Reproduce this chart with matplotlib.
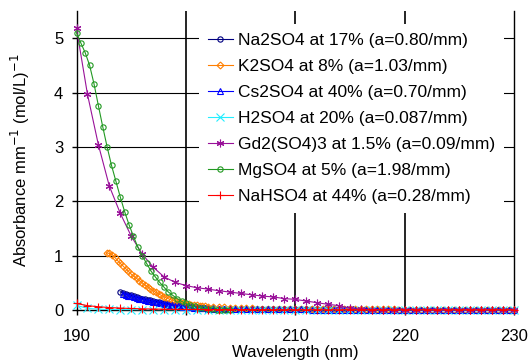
import numpy as np
import matplotlib
matplotlib.use("Agg")
import matplotlib.pyplot as plt

plt.rcParams['font.family'] = ['Liberation Sans', 'DejaVu Sans']

# wavelength grids (nm)
wl_1nm = np.arange(190, 231, 1.0)                       # 41 points
wl_mg = np.round(np.arange(190.0, 204.01, 0.4), 2)      # 36 points
wl_tail = np.arange(202.5, 230.01, 0.5)                 # 56 points
wl_na = np.concatenate([np.arange(194.0, 202.01, 0.25), wl_tail])
wl_k = np.concatenate([np.arange(192.75, 202.01, 0.25), wl_tail])
wl_cs = np.concatenate([np.arange(194.25, 202.01, 0.25), wl_tail])

# absorbance values
na2so4 = [0.335, 0.315, 0.30, 0.285, 0.27, 0.255, 0.24, 0.225, 0.21, 0.198,
          0.186, 0.175, 0.165, 0.155, 0.145, 0.135, 0.125, 0.117, 0.109, 0.101,
          0.094, 0.087, 0.08, 0.074, 0.068, 0.062, 0.057, 0.052, 0.047, 0.043,
          0.039, 0.035, 0.032,
          0.029, 0.027, 0.025, 0.023, 0.021, 0.02, 0.019, 0.018, 0.017, 0.016,
          0.015, 0.015, 0.014, 0.014, 0.013, 0.013, 0.012, 0.012, 0.012, 0.011,
          0.011, 0.011, 0.010, 0.010, 0.010, 0.010, 0.009, 0.009, 0.009, 0.009,
          0.009, 0.008, 0.008, 0.008, 0.008, 0.008, 0.008, 0.007, 0.007, 0.007,
          0.007, 0.007, 0.007, 0.007, 0.007, 0.006, 0.006, 0.006, 0.006, 0.006,
          0.006, 0.006, 0.006, 0.006, 0.006, 0.006]

k2so4 = [1.05, 1.04, 1.02, 0.97, 0.91, 0.86, 0.81, 0.76, 0.71, 0.66,
         0.62, 0.58, 0.54, 0.50, 0.46, 0.43, 0.39, 0.355, 0.325, 0.295,
         0.27, 0.245, 0.22, 0.20, 0.18, 0.165, 0.15, 0.14, 0.128, 0.118,
         0.108, 0.10, 0.092, 0.085, 0.078, 0.072, 0.066, 0.06,
         0.055, 0.05, 0.046, 0.042, 0.038, 0.035, 0.032, 0.029, 0.027, 0.025,
         0.023, 0.021, 0.02, 0.019, 0.018, 0.017, 0.016, 0.015, 0.015, 0.014,
         0.014, 0.013, 0.013, 0.012, 0.012, 0.012, 0.011, 0.011, 0.011, 0.01,
         0.01, 0.01, 0.01, 0.01, 0.009, 0.009, 0.009, 0.009, 0.009, 0.009,
         0.008, 0.008, 0.008, 0.008, 0.008, 0.008, 0.008, 0.008, 0.007, 0.007,
         0.007, 0.007, 0.007, 0.007, 0.007, 0.007]

cs2so4 = [0.295, 0.28, 0.265, 0.25, 0.236, 0.222, 0.208, 0.195, 0.183, 0.171,
          0.16, 0.149, 0.139, 0.129, 0.12, 0.111, 0.103, 0.095, 0.088, 0.081,
          0.075, 0.069, 0.063, 0.058, 0.053, 0.048, 0.044, 0.04, 0.036, 0.033,
          0.03, 0.027,
          0.025, 0.023, 0.021, 0.02, 0.018, 0.017, 0.016, 0.015, 0.014, 0.013,
          0.013, 0.012, 0.012, 0.011, 0.011, 0.01, 0.01, 0.01, 0.009, 0.009,
          0.009, 0.009, 0.008, 0.008, 0.008, 0.008, 0.008, 0.007, 0.007, 0.007,
          0.007, 0.007, 0.007, 0.006, 0.006, 0.006, 0.006, 0.006, 0.006, 0.006,
          0.006, 0.005, 0.005, 0.005, 0.005, 0.005, 0.005, 0.005, 0.005, 0.005,
          0.005, 0.005, 0.005, 0.005, 0.005, 0.005]

h2so4 = [0.085, 0.03, 0.015, 0.01, 0.008, 0.007, 0.006, 0.006, 0.005, 0.005,
         0.005, 0.005, 0.005, 0.005, 0.005, 0.005, 0.005, 0.005, 0.005, 0.005,
         0.004, 0.004, 0.004, 0.004, 0.004, 0.004, 0.004, 0.004, 0.004, 0.004,
         0.004, 0.004, 0.004, 0.004, 0.004, 0.004, 0.004, 0.004, 0.004, 0.004,
         0.004]

gd2so43 = [5.18, 3.97, 3.04, 2.28, 1.78, 1.36, 1.03, 0.79, 0.61, 0.51,
           0.45, 0.41, 0.385, 0.355, 0.33, 0.305, 0.28, 0.256, 0.24, 0.21,
           0.195, 0.165, 0.134, 0.104, 0.08, 0.03, 0.012, 0.008, 0.006, 0.005,
           0.005, 0.005, 0.004, 0.004, 0.004, 0.004, 0.003, 0.003, 0.003, 0.003,
           0.003]

mgso4 = [5.10, 4.91, 4.73, 4.50, 4.16, 3.76, 3.37, 3.00, 2.66, 2.37,
         2.08, 1.81, 1.57, 1.36, 1.16, 1.00, 0.86, 0.72, 0.61, 0.51,
         0.42, 0.33, 0.27, 0.21, 0.16, 0.12, 0.09, 0.065, 0.045, 0.03,
         0.02, 0.013, 0.008, 0.005, 0.003, 0.002]

nahso4 = [0.12, 0.08, 0.06, 0.045, 0.035, 0.028, 0.022, 0.018, 0.015, 0.012,
          0.01, 0.01, 0.009, 0.009, 0.008, 0.008, 0.008, 0.007, 0.007, 0.007,
          0.007, 0.006, 0.006, 0.006, 0.006, 0.006, 0.005, 0.005, 0.005, 0.005,
          0.005, 0.005, 0.005, 0.005, 0.005, 0.005, 0.005, 0.005, 0.005, 0.005,
          0.005]

labels = ['Na2SO4 at 17% (a=0.80/mm)', 'K2SO4 at 8% (a=1.03/mm)',
          'Cs2SO4 at 40% (a=0.70/mm)', 'H2SO4 at 20% (a=0.087/mm)',
          'Gd2(SO4)3 at 1.5% (a=0.09/mm)', 'MgSO4 at 5% (a=1.98/mm)',
          'NaHSO4 at 44% (a=0.28/mm)']

series = [
    (wl_na, na2so4, '#000080', 'o'),
    (wl_k, k2so4, '#FF7F00', 'D'),
    (wl_cs, cs2so4, '#0000FF', '^'),
    (wl_1nm, h2so4, '#22EEFF', 'x'),
    (wl_1nm, gd2so43, '#991199', (6, 2, 0)),
    (wl_mg, mgso4, '#229922', 'o'),
    (wl_1nm, nahso4, '#FF0000', '+'),
]

fig = plt.figure(figsize=(5.31, 3.6), dpi=100)
ax = fig.add_axes([76.5 / 531, 1 - 310 / 360, (514 - 76.5) / 531, (310 - 11) / 360])

for (x, y, c, m), lab in zip(series, labels):
    ms = 3.8
    if m == 'D':
        ms = 3.5
    elif m in ('x', '+', (6, 2, 0)):
        ms = 5.5
    ax.plot(x, y, color=c, lw=0.8, marker=m, ms=ms, mfc='none', mec=c,
            mew=0.8, label=lab, clip_on=False, zorder=3)

ax.set_xlim(190, 230)
ax.set_ylim(0, 5.5)
ax.set_xticks([190, 200, 210, 220, 230])
ax.set_yticks([0, 1, 2, 3, 4, 5])

for v in [200, 210, 220]:
    ax.axvline(v, color='black', lw=1.2, zorder=1)
for v in [1, 2, 3, 4, 5]:
    ax.axhline(v, color='black', lw=0.8, zorder=1)

ax.spines['top'].set_visible(False)
for s in ['left', 'right', 'bottom']:
    ax.spines[s].set_linewidth(1.0)
    ax.spines[s].set_zorder(2)

ax.tick_params(axis='x', direction='out', length=3.5, width=1.0, pad=10, labelsize=12)
ax.tick_params(axis='y', direction='out', length=3.5, width=1.0, pad=6, labelsize=12)

ax.set_xlabel('Wavelength (nm)', fontsize=12, labelpad=1)
ax.set_ylabel('Absorbance mm$^{-1}$ (mol/L)$^{-1}$', fontsize=12, labelpad=16)

leg = ax.legend(loc='upper left', bbox_to_anchor=(199 / 531, 1 - 24 / 360),
                bbox_transform=fig.transFigure, fontsize=12.5, frameon=True,
                fancybox=False, edgecolor='none', facecolor='white', framealpha=1,
                borderpad=0.5, borderaxespad=0, labelspacing=0.63,
                handlelength=1.45, handletextpad=0.3, numpoints=1)
leg.set_zorder(5)

fig.savefig('out.png', dpi=100)
